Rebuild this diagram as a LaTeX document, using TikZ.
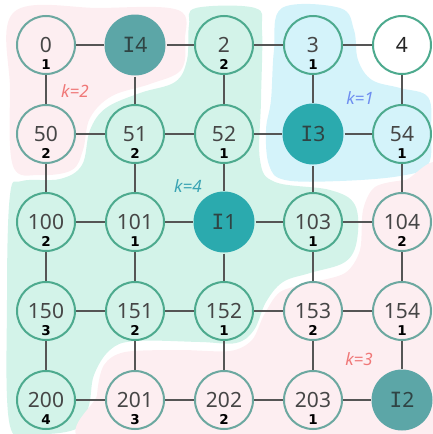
\documentclass[tikz,border=0pt]{standalone}
\usepackage{fontspec}
\setmainfont{Noto Sans}
\newfontfamily\subfont{DejaVu Sans}
\newfontfamily\ifont{DejaVu Sans Mono}
\definecolor{pinkbg}{HTML}{FDEEF1}
\definecolor{greenbg}{HTML}{D3F3E9}
\definecolor{bluebg}{HTML}{D4F3FA}
\definecolor{ringg}{HTML}{4DAA8E}
\definecolor{ringp}{HTML}{6CA8A0}
\definecolor{hubA}{HTML}{5CA6A7}
\definecolor{hubB}{HTML}{2BAAAE}
\definecolor{txt}{HTML}{464646}
\definecolor{hubtxt}{HTML}{2F4444}
\definecolor{kred}{HTML}{F07878}
\definecolor{kteal}{HTML}{3AA4B4}
\definecolor{kblue}{HTML}{6E8EF0}
\definecolor{edgec}{HTML}{555555}
\tikzset{
  cell/.style={circle, draw=ringg, line width=2pt, minimum size=58pt, inner sep=0pt,
    font=\fontsize{21}{21}\selectfont, text=txt},
  cellp/.style={cell, draw=ringp},
  hub/.style={cell, draw=none, fill=#1, text=hubtxt, minimum size=61pt},
  sub/.style={font=\subfont\bfseries\fontsize{13.5}{14}\selectfont, text=black, inner sep=0pt},
  link/.style={draw=edgec, line width=1.5pt},
  klabel/.style={font=\itshape\fontsize{17}{17}\selectfont, text=#1},
}
\newcommand\cellnode[6]{%
  \node[#4] (#1) at (#2,#3) {#5};
  \node[sub] (#1s) at (#2,#3+19.5) {#6};}
\begin{document}
\begin{tikzpicture}[x=1pt,y=-1pt]
\useasboundingbox (0,0) rectangle (433,434);
% regions
\fill[pinkbg] plot[smooth cycle, tension=0.6] coordinates {(14,12) (100,8) (178,10) (185,40) (181,70) (150,84) (112,96) (90,118) (83,150) (72,170) (40,175) (13,166) (10,90)};
\fill[greenbg] plot[smooth cycle, tension=0.6] coordinates {(196,8) (255,8) (262,30) (261,100) (260,160) (275,182) (330,190) (355,205) (357,240) (345,262) (310,273) (283,282) (266,302) (254,330) (236,343) (200,342) (135,341) (110,350) (94,375) (89,405) (78,428) (40,434) (10,426) (7,300) (10,195) (22,181) (60,179) (82,165) (90,130) (106,108) (140,93) (175,82) (187,60) (189,25)};
\fill[bluebg] plot[smooth cycle, tension=0.6] coordinates {(282,8) (340,8) (354,30) (358,60) (372,80) (400,88) (428,97) (431,130) (428,165) (400,176) (340,181) (285,180) (269,165) (266,130) (271,100) (274,50)};
\fill[pinkbg] plot[smooth cycle, tension=0.5] coordinates {(97,445) (97,395) (104,365) (125,352) (180,350) (230,351) (252,340) (264,315) (280,292) (310,283) (345,273) (360,250) (363,210) (375,187) (405,180) (445,178) (445,445)};
% labels
\node[klabel=kred] (k2) at (75,91) {k=2};
\node[klabel=kteal] (k4) at (188,186) {k=4};
\node[klabel=kblue] (k1) at (360,98) {k=1};
\node[klabel=kred] (k3) at (359,359) {k=3};
% row 0
\cellnode{n0}{46}{45}{cellp}{0}{1}
\node[hub=hubA] (i4) at (135,45) {{\ifont I}4};
\cellnode{n2}{224}{45}{cell}{2}{2}
\cellnode{n3}{313}{45}{cell}{3}{1}
\node[cell, fill=white, text=black!85] (n4) at (402,45) {4};
% row 1
\cellnode{n50}{46}{134}{cellp}{50}{2}
\cellnode{n51}{135}{134}{cell}{51}{2}
\cellnode{n52}{224}{134}{cell}{52}{1}
\node[hub=hubB] (i3) at (313,134) {{\ifont I}3};
\cellnode{n54}{402}{134}{cell}{54}{1}
% row 2
\cellnode{n100}{46}{222}{cell}{100}{2}
\cellnode{n101}{135}{222}{cell}{101}{1}
\node[hub=hubB] (i1) at (224,222) {{\ifont I}1};
\cellnode{n103}{313}{222}{cell}{103}{1}
\cellnode{n104}{402}{222}{cellp}{104}{2}
% row 3
\cellnode{n150}{46}{311}{cell}{150}{3}
\cellnode{n151}{135}{311}{cell}{151}{2}
\cellnode{n152}{224}{311}{cell}{152}{1}
\cellnode{n153}{313}{311}{cellp}{153}{2}
\cellnode{n154}{402}{311}{cellp}{154}{1}
% row 4
\cellnode{n200}{46}{400}{cell}{200}{4}
\cellnode{n201}{135}{400}{cellp}{201}{3}
\cellnode{n202}{224}{400}{cellp}{202}{2}
\cellnode{n203}{313}{400}{cellp}{203}{1}
\node[hub=hubA] (i2) at (402,400) {{\ifont I}2};
% horizontal links
\draw[link] (n0)--(i4); \draw[link] (i4)--(n2); \draw[link] (n2)--(n3); \draw[link] (n3)--(n4);
\draw[link] (n50)--(n51); \draw[link] (n51)--(n52); \draw[link] (n52)--(i3); \draw[link] (i3)--(n54);
\draw[link] (n100)--(n101); \draw[link] (n101)--(i1); \draw[link] (i1)--(n103); \draw[link] (n103)--(n104);
\draw[link] (n150)--(n151); \draw[link] (n151)--(n152); \draw[link] (n152)--(n153); \draw[link] (n153)--(n154);
\draw[link] (n200)--(n201); \draw[link] (n201)--(n202); \draw[link] (n202)--(n203); \draw[link] (n203)--(i2);
% vertical links
\draw[link] (n0)--(n50); \draw[link] (n50)--(n100); \draw[link] (n100)--(n150); \draw[link] (n150)--(n200);
\draw[link] (i4)--(n51); \draw[link] (n51)--(n101); \draw[link] (n101)--(n151); \draw[link] (n151)--(n201);
\draw[link] (n2)--(n52); \draw[link] (n52)--(i1); \draw[link] (i1)--(n152); \draw[link] (n152)--(n202);
\draw[link] (n3)--(i3); \draw[link] (i3)--(n103); \draw[link] (n103)--(n153); \draw[link] (n153)--(n203);
\draw[link] (n4)--(n54); \draw[link] (n54)--(n104); \draw[link] (n104)--(n154); \draw[link] (n154)--(i2);
\end{tikzpicture}
\end{document}
